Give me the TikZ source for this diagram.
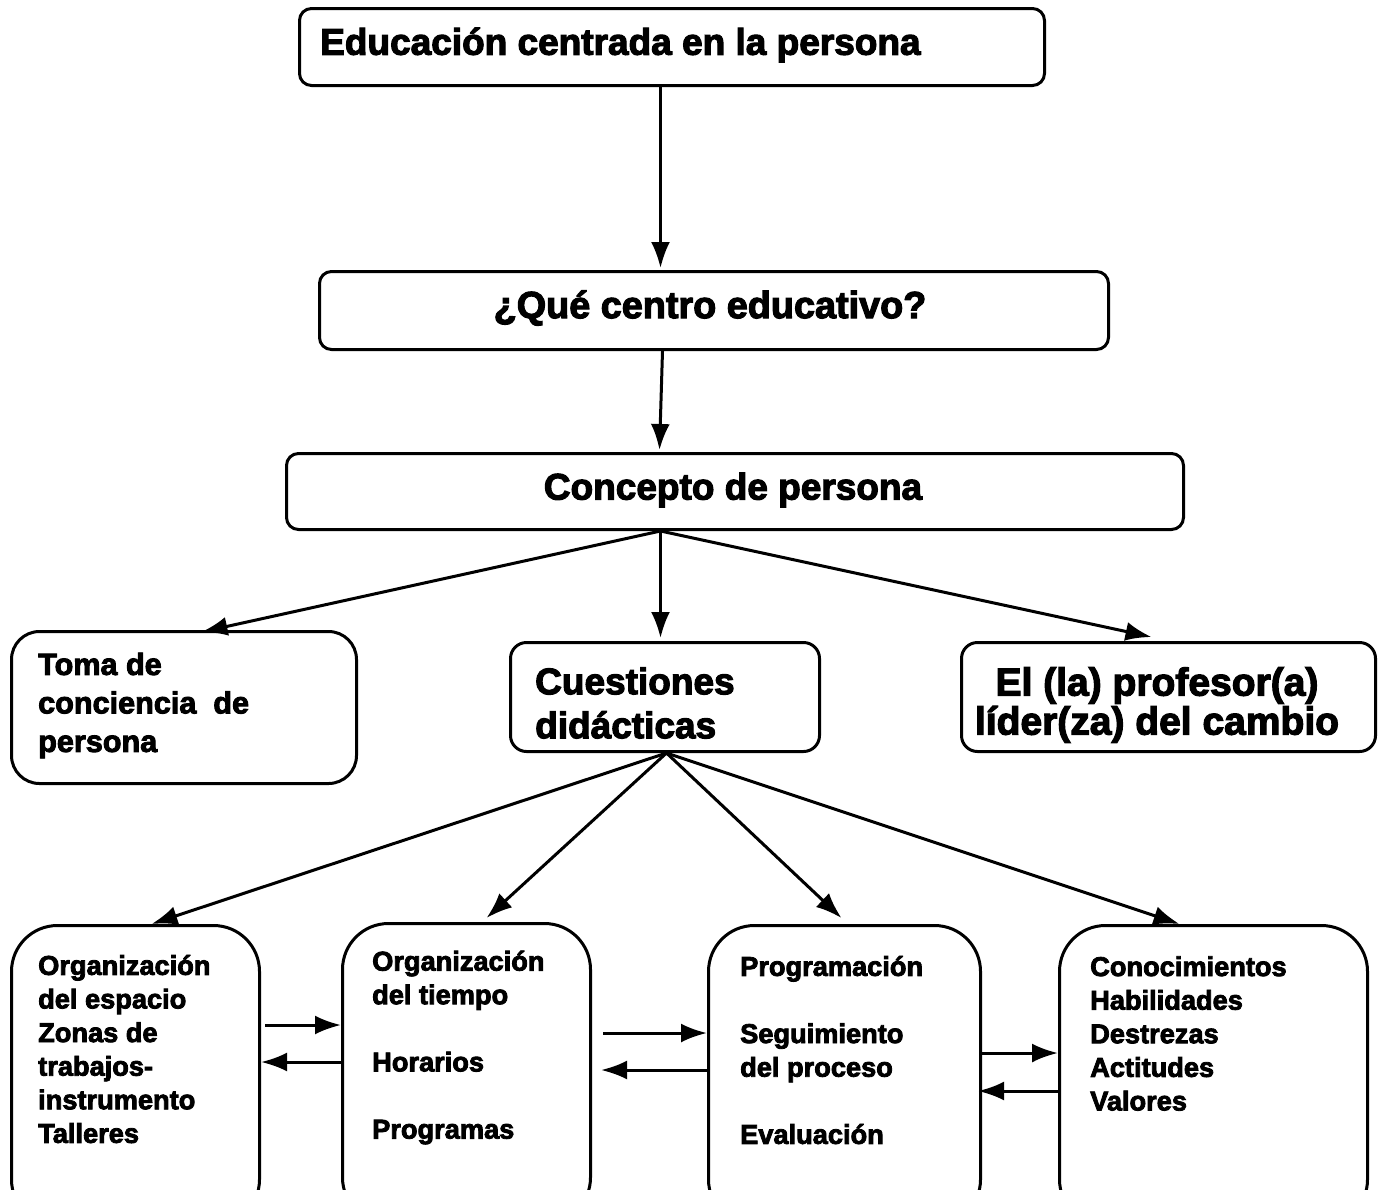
\documentclass[tikz,border=0pt]{standalone}
\usepackage{fontspec}
\setmainfont{Liberation Sans}[BoldFeatures={FakeBold=3}]
\usetikzlibrary{arrows.meta,calc}
\begin{document}
\begin{tikzpicture}[x=1pt,y=-1pt,
  box/.style={draw, line width=3pt, rounded corners=#1, inner sep=0pt, anchor=north west},
  txt/.style={inner sep=0pt, font=\bfseries},
  arr/.style={line width=3pt, -{Latex[length=26pt,width=19pt]}},
  big/.style={font=\bfseries\fontsize{37}{44}\selectfont},
  mid/.style={font=\bfseries\fontsize{30.6}{38.5}\selectfont},
  small/.style={font=\bfseries\fontsize{27.2}{33.6}\selectfont}]
\useasboundingbox[fill=white] (0,0) rectangle (1380,1189);
\clip (0,0) rectangle (1380,1189);
% boxes
\node[box=12, minimum width=745, minimum height=77] (A) at (298,7) {};
\node[box=12, minimum width=789, minimum height=78] (B) at (318,270) {};
\node[box=12, minimum width=897, minimum height=76] (C) at (285,452) {};
\node[box=28, minimum width=345, minimum height=152] (D) at (10,630) {};
\node[box=16, minimum width=309, minimum height=109] (E) at (509,641) {};
\node[box=16, minimum width=414, minimum height=109] (F) at (960,641) {};
\node[box=46, minimum width=248, minimum height=300] (G) at (10,924) {};
\node[box=46, minimum width=248, minimum height=300] (H) at (341,922) {};
\node[box=46, minimum width=272, minimum height=300] (I) at (707,924) {};
\node[box=46, minimum width=308, minimum height=300] (J) at (1058,924) {};
% texts
\node[txt, big, anchor=west] (tA) at (320,45) {Educación centrada en la persona};
\node[txt, font=\bfseries\fontsize{37.8}{44}\selectfont] (tB) at (710,308) {¿Qué centro educativo?};
\node[txt, big] (tC) at (733,490) {Concepto de persona};
\node[txt, mid, anchor=west, align=left] (tD) at (38,705.5) {Toma de\\conciencia\ \ de\\persona};
\node[txt, big, anchor=west, align=left] (tE) at (535,703) {Cuestiones\\didácticas};
\node[txt, font=\bfseries\fontsize{39}{39}\selectfont, align=center] (tF) at (1157,705) {El (la) profesor(a)\\líder(za) del cambio};
\node[txt, small, anchor=west, align=left] (tG) at (38,1049) {Organización\\del espacio\\Zonas de\\trabajos-\\instrumento\\Talleres};
\node[txt, small, anchor=west, align=left] (tH) at (372,1047.5) {Organización\\del tiempo\\[33.6pt]Horarios\\[33.6pt]Programas};
\node[txt, small, anchor=west, align=left] (tI) at (740,1050) {Programación\\[33.6pt]Seguimiento\\del proceso\\[33.6pt]Evaluación};
\node[txt, small, anchor=west, align=left] (tJ) at (1090,1033.5) {Conocimientos\\Habilidades\\Destrezas\\Actitudes\\Valores};
% vertical connectors
\draw[arr] ([xshift=-11.5]A.south) -- ([xshift=-53.5,yshift=2]B.north);
\draw[arr] ([xshift=-51.5]B.south) -- ([xshift=-75.5,yshift=2]C.north);
% from concept
\draw[arr] ([xshift=-74.5]C.south) -- ([xshift=17.5,yshift=-2]D.north);
\draw[arr] ([xshift=-74.5]C.south) -- ([xshift=-4.5,yshift=3]E.north);
\draw[arr] ([xshift=-74.5]C.south) -- ([xshift=-17,yshift=4]F.north);
% from cuestiones
\draw[arr] ([xshift=1.5]E.south) -- ([xshift=16]G.north);
\draw[arr] ([xshift=1.5]E.south) -- ([xshift=20,yshift=4]H.north);
\draw[arr] ([xshift=1.5]E.south) -- ([xshift=-3,yshift=6]I.north);
\draw[arr] ([xshift=1.5]E.south) -- ([xshift=-34]J.north);
% horizontal pairs
\coordinate (g1) at ([xshift=4]G.east |- 0,1025);
\coordinate (g2) at (G.east |- 0,1062);
\draw[arr] (g1) -- (H.west |- g1);
\draw[arr] (H.west |- g2) -- (g2);
\coordinate (h1) at ([xshift=11]H.east |- 0,1033);
\coordinate (h2) at ([xshift=9]H.east |- 0,1070);
\draw[arr] (h1) -- (I.west |- h1);
\draw[arr] (I.west |- h2) -- (h2);
\coordinate (i1) at (I.east |- 0,1053);
\coordinate (i2) at ([xshift=-4]I.east |- 0,1091);
\draw[arr] (i1) -- (J.west |- i1);
\draw[arr] (J.west |- i2) -- (i2);
\end{tikzpicture}
\end{document}
